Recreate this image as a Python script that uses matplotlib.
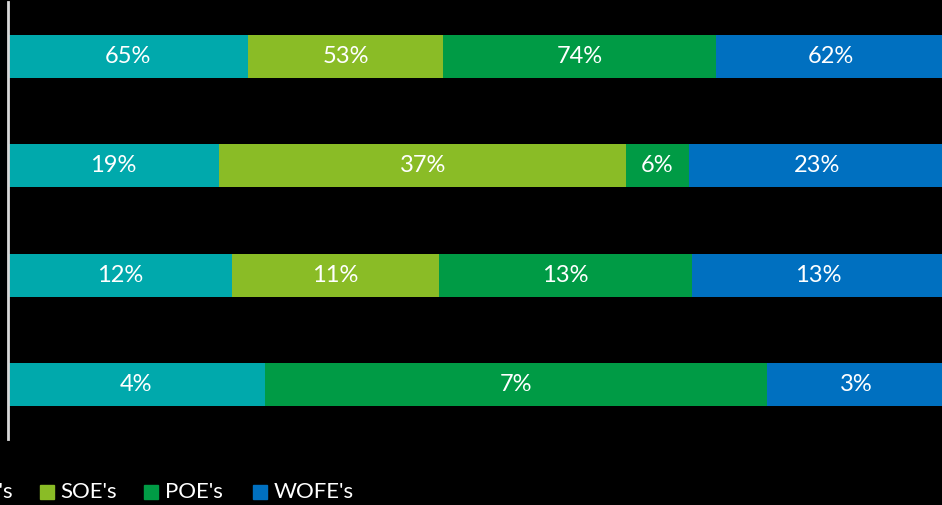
import matplotlib
matplotlib.use("Agg")
import matplotlib.pyplot as plt
from matplotlib.patches import Rectangle
import numpy as np

plt.rcParams['font.family'] = ['Lato', 'DejaVu Sans']

rows = ["Row 1", "Row 2", "Row 3", "Row 4"]
series = ["JV's", "SOE's", "POE's", "WOFE's"]
colors = ["#00A9AC", "#8ABC26", "#009B45", "#0070C0"]
# values (percent) per series, one per row
jv = [65.0, 19.0, 11.6, 3.7]
soe = [53.0, 36.7, 10.7, 0.0]
poe = [74.0, 5.6, 13.1, 7.24]
wofe = [62.0, 23.1, 13.1, 2.57]

data = np.array([jv, soe, poe, wofe])
totals = data.sum(axis=0)
shares = data / totals

W, H = 942, 505
fig = plt.figure(figsize=(W / 100, H / 100), dpi=100, facecolor="black")
ax_left, ax_right = 8, 945
ax_top, ax_bottom = 1.8, 439.2
ax = fig.add_axes([ax_left / W, (H - ax_bottom) / H,
                   (ax_right - ax_left) / W, (ax_bottom - ax_top) / H])
ax.set_facecolor("black")

y = np.arange(len(rows))
left = np.zeros(len(rows))
for i, name in enumerate(series):
    ax.barh(y, shares[i], left=left, height=0.395, color=colors[i],
            edgecolor="none", label=name)
    for j in range(len(rows)):
        if data[i, j] > 0:
            ax.text(left[j] + shares[i, j] / 2, y[j], f"{round(data[i, j])}%",
                    ha="center", va="center", color="white", fontsize=17)
    left += shares[i]

ax.set_xlim(0, 1)
ax.set_ylim(len(rows) - 0.5, -0.5)
ax.set_xticks([])
ax.set_yticks([])
for s in ["top", "right", "bottom"]:
    ax.spines[s].set_visible(False)
ax.spines["left"].set_color("#D9D9D9")
ax.spines["left"].set_linewidth(2)

# legend (its left part is cropped in the reference)
sq = 14
ly = 492
fig.text(13.5 / W, (H - ly) / H, series[0], color="white",
         fontsize=16, ha="right", va="center")
items = [(39.5, series[1]), (144, series[2]), (253, series[3])]
for (x0, label), c in zip(items, colors[1:]):
    fig.patches.append(Rectangle((x0 / W, (H - ly - sq / 2) / H), sq / W, sq / H,
                                 transform=fig.transFigure, color=c))
    fig.text((x0 + sq + 7) / W, (H - ly) / H, label, color="white",
             fontsize=16, ha="left", va="center")

fig.savefig("out.png", dpi=100, facecolor="black")
